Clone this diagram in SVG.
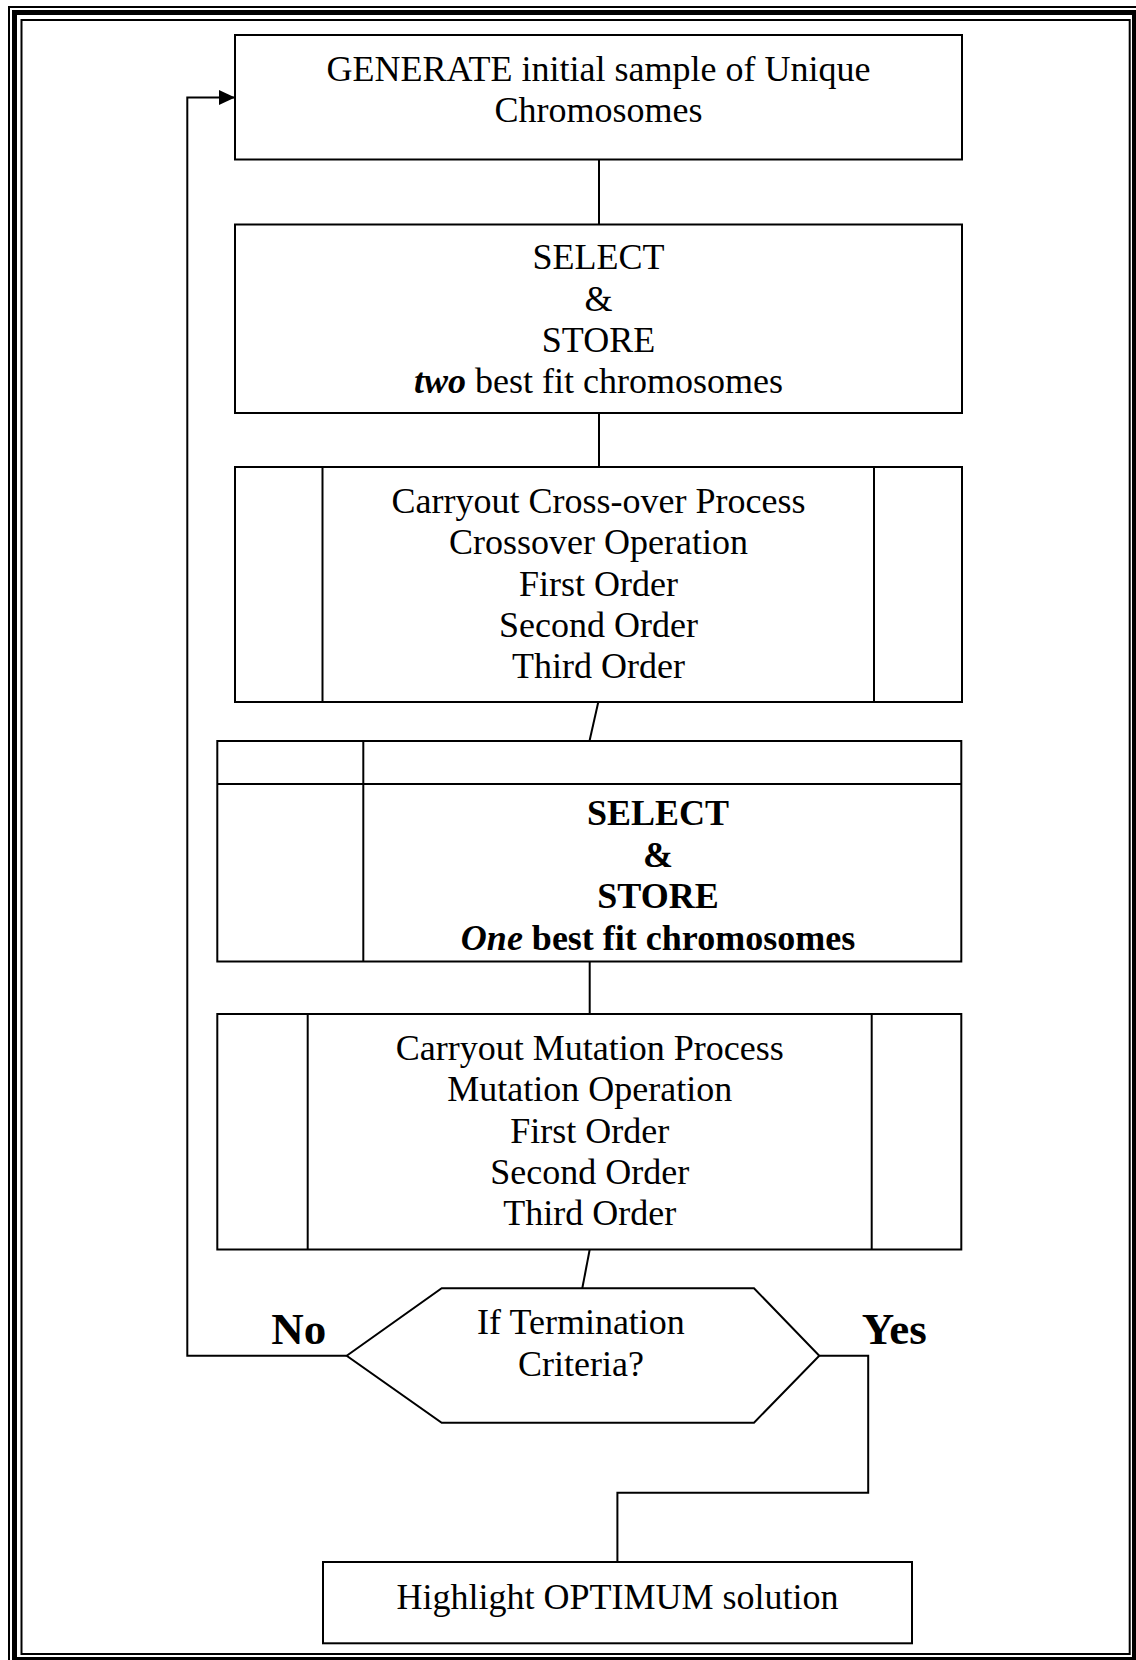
<svg xmlns="http://www.w3.org/2000/svg" width="1136" height="1660" viewBox="0 0 1136 1660">
  <defs>
    <marker id="arrow" markerUnits="userSpaceOnUse" markerWidth="16" markerHeight="16" viewBox="0 0 16 16" refX="16" refY="8" orient="auto">
      <path d="M0,0.5 L16,8 L0,15.5 z" fill="#000"/>
    </marker>
  </defs>
  <style>
    .box { fill: #fff; stroke: #000; stroke-width: 2; }
    .div { fill: none; stroke: #000; stroke-width: 2; }
    .wire { fill: none; stroke: #000; stroke-width: 2; }
    .t { font-family: "Liberation Serif", "Times New Roman", serif; font-size: 36px; text-anchor: middle; fill: #000; }
    .b { font-weight: bold; }
    .bi { font-weight: bold; font-style: italic; }
    .lbl { font-family: "Liberation Serif", "Times New Roman", serif; font-size: 45px; font-weight: bold; text-anchor: middle; fill: #000; }
  </style>

  <rect width="1136" height="1660" fill="#fff"/>

  <!-- page border: thin / thick / thin -->
  <g id="page-border" fill="none" stroke="#000">
    <rect x="9" y="7" width="1140" height="1670" stroke-width="2"/>
    <rect x="14.5" y="12.5" width="1120" height="1647" stroke-width="5"/>
    <rect x="21.5" y="20" width="1108.2" height="1634" stroke-width="2"/>
  </g>

  <!-- connectors -->
  <g id="connectors">
    <line class="wire" x1="599" y1="159.5" x2="599" y2="224.5"/>
    <line class="wire" x1="599" y1="413" x2="599" y2="467"/>
    <line class="wire" x1="598.3" y1="702" x2="589.5" y2="741"/>
    <line class="wire" x1="589.7" y1="961" x2="589.7" y2="1014"/>
    <line class="wire" x1="589.7" y1="1249.5" x2="582.3" y2="1288.3"/>
    <!-- No: back to the start -->
    <polyline class="wire" points="346.7,1355.7 187.3,1355.7 187.3,97.5 235,97.5" marker-end="url(#arrow)"/>
    <!-- Yes: on to the result -->
    <polyline class="wire" points="819.3,1355.7 868.2,1355.7 868.2,1492.8 617.4,1492.8 617.4,1562"/>
  </g>

  <g id="generate">
    <rect class="box" x="235" y="35" width="727" height="124.5"/>
    <text class="t" x="598.5" y="81">GENERATE initial sample of Unique</text>
    <text class="t" x="598.5" y="122">Chromosomes</text>
  </g>

  <g id="select-two">
    <rect class="box" x="235" y="224.5" width="727" height="188.5"/>
    <text class="t" x="598.5" y="269">SELECT</text>
    <text class="t" x="598.5" y="310.5">&amp;</text>
    <text class="t" x="598.5" y="351.5">STORE</text>
    <text class="t" x="598.5" y="393"><tspan class="bi">two</tspan> best fit chromosomes</text>
  </g>

  <g id="crossover">
    <rect class="box" x="235" y="467" width="727" height="235"/>
    <line class="div" x1="322.5" y1="467" x2="322.5" y2="702"/>
    <line class="div" x1="874" y1="467" x2="874" y2="702"/>
    <text class="t" x="598.5" y="513">Carryout Cross-over Process</text>
    <text class="t" x="598.5" y="554">Crossover Operation</text>
    <text class="t" x="598.5" y="595.5">First Order</text>
    <text class="t" x="598.5" y="637">Second Order</text>
    <text class="t" x="598.5" y="678">Third Order</text>
  </g>

  <g id="select-one">
    <rect class="box" x="217.3" y="741" width="744" height="220.5"/>
    <line class="div" x1="217.3" y1="784" x2="961.3" y2="784"/>
    <line class="div" x1="363.3" y1="741" x2="363.3" y2="961.5"/>
    <text class="t b" x="658" y="825">SELECT</text>
    <text class="t b" x="658" y="867">&amp;</text>
    <text class="t b" x="658" y="908">STORE</text>
    <text class="t b" x="658" y="950"><tspan class="bi">One</tspan> best fit chromosomes</text>
  </g>

  <g id="mutation">
    <rect class="box" x="217.3" y="1014" width="744" height="235.5"/>
    <line class="div" x1="307.7" y1="1014" x2="307.7" y2="1249.5"/>
    <line class="div" x1="871.7" y1="1014" x2="871.7" y2="1249.5"/>
    <text class="t" x="589.7" y="1060">Carryout Mutation Process</text>
    <text class="t" x="589.7" y="1101">Mutation Operation</text>
    <text class="t" x="589.7" y="1143">First Order</text>
    <text class="t" x="589.7" y="1184">Second Order</text>
    <text class="t" x="589.7" y="1225">Third Order</text>
  </g>

  <g id="termination">
    <polygon class="box" points="346.7,1355.7 441.7,1288.3 754,1288.3 819.3,1355.7 754,1422.7 441.7,1422.7"/>
    <text class="t" x="581" y="1334">If Termination</text>
    <text class="t" x="581" y="1375.5">Criteria?</text>
  </g>

  <g id="labels">
    <text class="lbl" x="298.7" y="1344">No</text>
    <text class="lbl" x="894.2" y="1344">Yes</text>
  </g>

  <g id="optimum">
    <rect class="box" x="323" y="1562" width="589" height="81.3"/>
    <text class="t" x="617.5" y="1609">Highlight OPTIMUM solution</text>
  </g>
</svg>
